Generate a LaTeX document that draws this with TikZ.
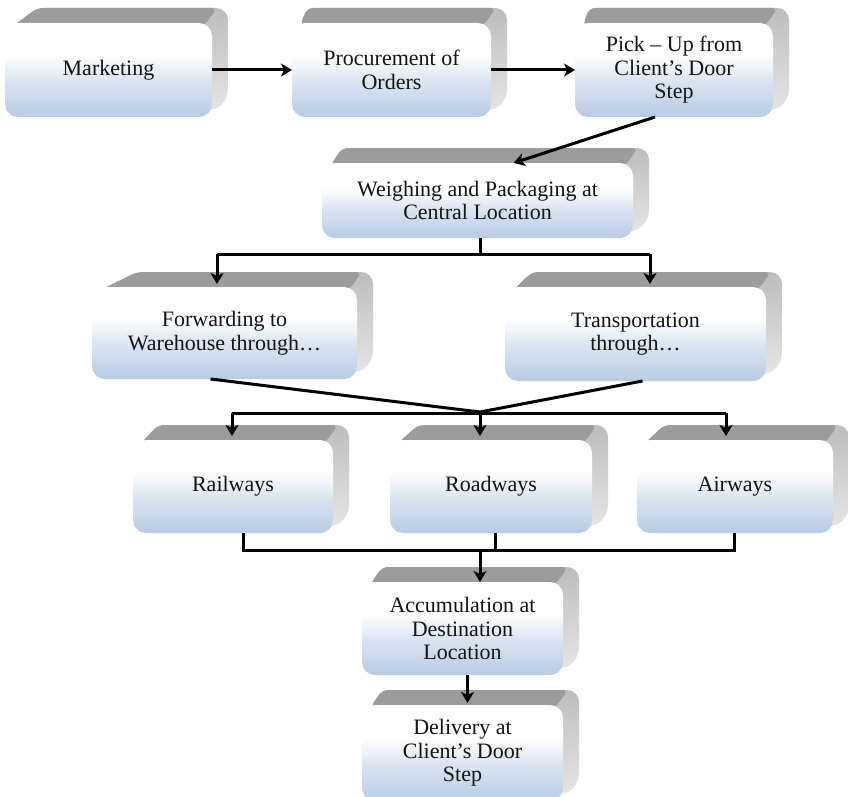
\documentclass[tikz,border=0pt]{standalone}
\usepackage{fontspec}
\setmainfont{Liberation Serif}
\usetikzlibrary{calc,arrows.meta}
\definecolor{fbB}{HTML}{B7CBE4}
\definecolor{fbM}{HTML}{DCE6F2}
\definecolor{topg}{HTML}{9C9C9C}
\definecolor{sideA}{HTML}{BDBDBD}
\definecolor{sideB}{HTML}{E6E6E6}
\pgfdeclareverticalshading{frontshade}{100bp}{color(0bp)=(fbB); color(25bp)=(fbB); color(45bp)=(fbM); color(58bp)=(white); color(100bp)=(white)}
\tikzset{
 frontbox/.style={shade, shading=frontshade, rounded corners=13pt, inner sep=0pt, outer sep=0pt, align=center, font=\fontsize{22}{23.5}\selectfont, text=black!92},
 conn/.style={line width=3pt, black},
 arr/.style={line width=3pt, black, -{Stealth[length=11pt,width=13pt,inset=3pt]}},
}
% #1 name, #2 x1, #3 y1, #4 x2, #5 y2, #6 left skew, #7 text
\newcommand\cubebox[7]{%
 \path[rounded corners=12pt, top color=sideA, bottom color=sideB]
   (#2+6,#3+6) -- (#2+#6,#3-15) -- (#4+16,#3-15) -- (#4+16,#5-15) -- (#4-4,#5-4) -- cycle;
 \fill[topg, rounded corners=6pt]
   (#2+8,#3+3) -- (#2+#6,#3-15) -- (#4+5,#3-15) -- (#4-8,#3+3) -- cycle;
 \node[frontbox, minimum width={(#4-#2)*1pt}, minimum height={(#5-#3)*1pt}]
   (#1) at ({(#2+#4)/2},{(#3+#5)/2}) {#7};
}
\begin{document}
\begin{tikzpicture}[x=1pt,y=-1pt]
\clip (0,0) rectangle (848,797);
\fill[white] (0,0) rectangle (848,797);

\cubebox{mkt}{5}{23}{212}{117}{32}{Marketing}
\cubebox{proc}{292}{23}{491}{117}{15}{Procurement of\\Orders}
\cubebox{pick}{575}{23}{773}{117}{14}{Pick – Up from\\Client’s Door\\Step}
\cubebox{weigh}{322}{163}{633}{238}{20}{Weighing and Packaging at\\Central Location}
\cubebox{fwd}{92}{287}{357}{379}{45}{Forwarding to\\Warehouse through…}
\cubebox{trans}{505}{287}{766}{381}{27}{Transportation\\through…}
\cubebox{rail}{133}{440}{333}{533}{25}{Railways}
\cubebox{road}{390}{440}{592}{533}{28}{Roadways}
\cubebox{air}{637}{440}{833}{533}{27}{Airways}
\cubebox{acc}{362}{582}{563}{675}{20}{Accumulation at\\Destination\\Location}
\cubebox{deliv}{362}{705}{563}{801}{20}{Delivery at\\Client’s Door\\Step}

% top row
\draw[arr] (mkt.east) -- (proc.west);
\draw[arr] (proc.east) -- (pick.west);
\draw[arr] ($(pick.south)+(-19,0)$) -- ($(weigh.north)+(36,0)$);

% split after weighing
\coordinate (j1) at (480,254);
\coordinate (fa) at (217,254);
\coordinate (ta) at (650,254);
\draw[conn] (weigh.south -| j1) -- (j1);
\draw[conn] (fa) -- (ta);
\draw[arr, shorten >=3pt] (fa) -- (fa |- fwd.north);
\draw[arr, shorten >=3pt] (ta) -- (ta |- trans.north);

% convergence
\coordinate (j2) at (480,412);
\draw[conn] ($(fwd.south)+(-14,0)$) -- (j2);
\draw[conn] ($(trans.south)+(7,0)$) -- (j2);
\coordinate (ra) at (232,413);
\coordinate (rb) at (480,413);
\coordinate (rc) at (726,413);
\draw[conn] (ra) -- (rc);
\draw[arr, shorten >=4pt] (ra) -- (ra |- rail.north);
\draw[arr, shorten >=4pt] (rb) -- (rb |- road.north);
\draw[arr, shorten >=4pt] (rc) -- (rc |- air.north);

% merge
\coordinate (b1) at (243,550);
\coordinate (b2) at (495,550);
\coordinate (b3) at (734,550);
\coordinate (b4) at (480,550);
\draw[conn] (b1 |- rail.south) -- (b1) -- (b3) -- (b3 |- air.south);
\draw[conn] (b2 |- road.south) -- (b2);
\draw[arr] (b4) -- (b4 |- acc.north);
\draw[arr, shorten >=2pt] ($(acc.south)+(5,0)$) -- ($(deliv.north)+(5,0)$);
\end{tikzpicture}
\end{document}
